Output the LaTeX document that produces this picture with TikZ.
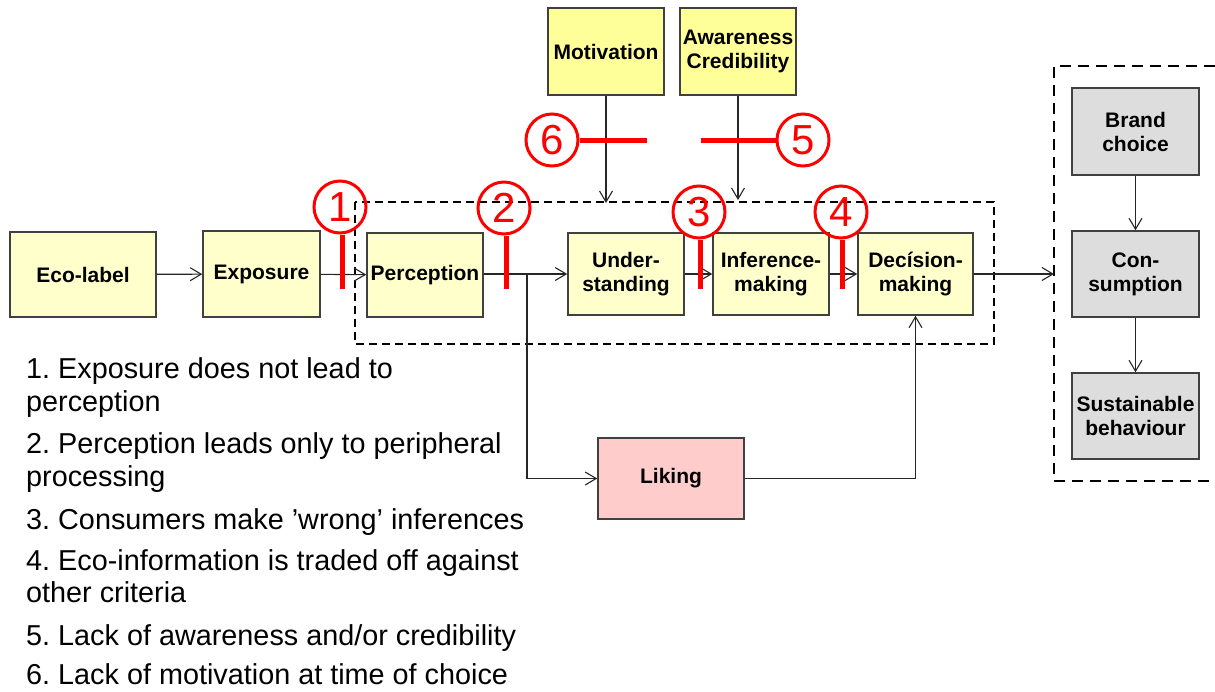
\documentclass[tikz,border=0pt]{standalone}
\usepackage{fontspec}
\setmainfont{Liberation Sans}
\usetikzlibrary{arrows.meta}
\definecolor{boxy}{HTML}{FFFFCC}
\definecolor{boxyy}{HTML}{FFFF99}
\definecolor{boxg}{HTML}{DDDDDD}
\definecolor{boxp}{HTML}{FFCCCC}
\definecolor{edge}{HTML}{404040}
\definecolor{redc}{HTML}{FF0000}
\frenchspacing
\tikzset{
  bx/.style={draw=edge, line width=1.5pt, rectangle, inner sep=0pt, align=center,
     font=\fontsize{21}{24}\selectfont\bfseries},
  ylw/.style={bx, fill=boxy},
  ylw2/.style={bx, fill=boxyy},
  gry/.style={bx, fill=boxg},
  pnk/.style={bx, fill=boxp},
  conn/.style={draw=black!85, line width=1.1pt, -{Straight Barb[length=11pt,width=13pt,line width=1.1pt]}},
  num/.style={circle, draw=redc, line width=3pt, minimum size=52pt, inner sep=0pt,
     text=redc, font=\fontsize{42}{42}\selectfont},
  bar/.style={draw=redc, line width=5pt},
  dbox/.style={draw=black, line width=2.6pt, dash pattern=on 8pt off 5pt},
  dbox2/.style={draw=black, line width=2.6pt, dash pattern=on 11pt off 7pt},
  lst/.style={anchor=base west, inner sep=0pt, font=\fontsize{28.8}{33}\selectfont}
}
\begin{document}
\begin{tikzpicture}[x=1pt,y=-1pt]
\useasboundingbox (0,0) rectangle (1215,691);
% dashed frames
\draw[dbox] (355,202) rectangle (994,344);
\draw[dbox2] (1215,66) -| (1054,481) -- (1215,481);
% boxes
\node[ylw, minimum width=146pt, minimum height=85pt] (eco) at (83,274.5) {Eco-label};
\node[ylw, minimum width=117pt, minimum height=86pt] (exp) at (261.5,274) {Exposure};
\node[ylw, minimum width=116pt, minimum height=84pt] (per) at (425,275) {Perception};
\node[ylw, minimum width=116pt, minimum height=82pt] (und) at (626,274) {Under-\\standing};
\node[ylw, minimum width=116pt, minimum height=82pt] (inf) at (771,274) {Inference-\\making};
\node[ylw, minimum width=115pt, minimum height=82pt] (dec) at (915.5,274) {Decísion-\\making};
\node[ylw2, minimum width=116pt, minimum height=87pt] (mot) at (606,51.5) {Motivation};
\node[ylw2, minimum width=116pt, minimum height=87pt] (awa) at (738,51.5) {Awareness\\Credibility};
\node[gry, minimum width=127pt, minimum height=87pt] (brand) at (1135.5,131.5) {Brand\\choice};
\node[gry, minimum width=127pt, minimum height=86pt] (cons) at (1135.5,274) {Con-\\sumption};
\node[gry, minimum width=127pt, minimum height=86pt] (sust) at (1135.5,416) {Sustainable\\behaviour};
\node[pnk, minimum width=146pt, minimum height=81pt] (lik) at (671,478.5) {Liking};
% coordinates
\coordinate (motend) at (606,203);
\coordinate (awaend) at (738,200);
\coordinate (rb) at (1054,274);
\coordinate (br) at (527,274);
% connectors
\draw[conn] (eco) -- (exp);
\draw[conn] (exp) -- (per);
\draw[conn] (per.east |- und) -- (und);
\draw[conn] (und) -- (inf);
\draw[conn] (inf) -- (dec);
\draw[conn] (dec) -- (rb);
\draw[conn] (mot) -- (motend);
\draw[conn] (awa) -- (awaend);
\draw[conn] (brand) -- (cons);
\draw[conn] (cons) -- (sust);
\draw[conn] (br) |- (lik.west);
\draw[conn] (lik.east) -| (dec.south);
% red markers
\node[num] (c1) at (340,207) {1};
\node[num] (c2) at (504,208) {2};
\node[num] (c3) at (699,212) {3};
\node[num] (c4) at (841,212) {4};
\node[num] (c6) at (552,140) {6};
\node[num] (c5) at (803,140) {5};
\coordinate (e1) at (342,289);
\coordinate (e2) at (506,289);
\coordinate (e3) at (700,289);
\coordinate (e4) at (842,289);
\coordinate (e6) at (647,140);
\coordinate (e5) at (701,140);
\draw[bar] (c1.south -| e1) -- (e1);
\draw[bar] (c2.south -| e2) -- (e2);
\draw[bar] (c3.south -| e3) -- (e3);
\draw[bar] (c4.south -| e4) -- (e4);
\draw[bar] (c6.east) -- (e6);
\draw[bar] (c5.west) -- (e5);
% list
\node[lst] (t1a) at (26,378) {1. Exposure does not lead to};
\node[lst] (t1b) at (26,411) {perception};
\node[lst] (t2a) at (26,453) {2. Perception leads only to peripheral};
\node[lst] (t2b) at (26,486) {processing};
\node[lst] (t3a) at (26,529) {3. Consumers make ’wrong’ inferences};
\node[lst] (t4a) at (26,570) {4. Eco-information is traded off against};
\node[lst] (t4b) at (26,602) {other criteria};
\node[lst] (t5a) at (26,645) {5. Lack of awareness and/or credibility};
\node[lst] (t6a) at (26,684) {6. Lack of motivation at time of choice};
\end{tikzpicture}
\end{document}
